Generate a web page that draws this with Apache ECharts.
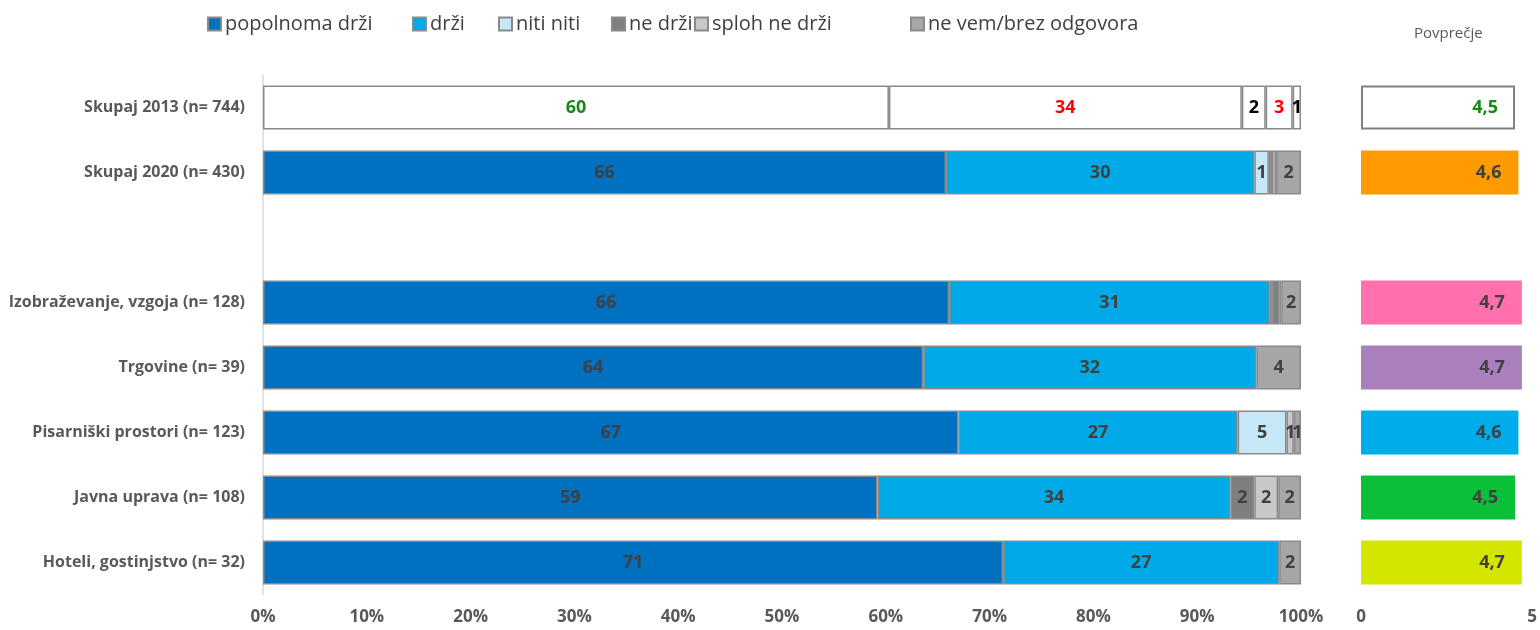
<!DOCTYPE html>
<html>
<head>
<meta charset="utf-8">
<script src="https://cdn.jsdelivr.net/npm/echarts@6/dist/echarts.min.js"></script>
<style>
  html, body { margin: 0; padding: 0; background: #fff; }
  #chart { width: 1540px; height: 630px; }
</style>
</head>
<body>
<div id="chart"></div>
<script>
  // kategorije (prazna vrstica loči skupaj od dejavnosti)
  var categories = ['Skupaj 2013 (n= 744)', 'Skupaj 2020 (n= 430)', '', 'Izobraževanje, vzgoja (n= 128)',
    'Trgovine (n= 39)', 'Pisarniški prostori (n= 123)', 'Javna uprava (n= 108)', 'Hoteli, gostinjstvo (n= 32)']

  var seriesNames = ['popolnoma drži', 'drži', 'niti niti', 'ne drži', 'sploh ne drži', 'ne vem/brez odgovora']
  var popolnomaDrzi = [60.3, 65.8, null, 66.1, 63.6, 67.0, 59.2, 71.3]
  var drzi = [34.0, 29.7, null, 30.9, 32.1, 26.9, 34.0, 26.6]
  var nitiNiti = [2.3, 1.4, null, 0.3, 0, 4.7, 0, 0]
  var neDrzi = [2.6, 0.3, null, 0.6, 0, 0, 2.3, 0]
  var splohNeDrzi = [0.8, 0.4, null, 0.2, 0, 0.7, 2.3, 0]
  var neVem = [0, 2.4, null, 1.9, 4.3, 0.7, 2.2, 2.1]
  var povprecje = [4.5, 4.6, null, 4.7, 4.7, 4.6, 4.5, 4.7]

  var xTicks = { min: 0, max: 100, interval: 10 }

  var colors = ['#0070c0', '#00aae9', '#c5e7f8', '#7f7f7f', '#c8c8c8', '#a6a6a6']
  var label2013 = ['#178a17', '#ff0000', '#000000', '#ff0000', '#000000', '#000000']
  var avgColors = ['#ffffff', '#ff9a00', '#ff70ac', '#a97fbe', '#00acea', '#0bbf38', '#d3e600']

  var allValues = [popolnomaDrzi, drzi, nitiNiti, neDrzi, splohNeDrzi, neVem]
  var fontBold = "'Open Sans', sans-serif"

  var myChart = echarts.init(document.getElementById('chart'))

  var barSeries = allValues.map(function (vals, s) {
    return {
      name: seriesNames[s],
      type: 'bar',
      stack: 'total',
      barCategoryGap: '32%',
      itemStyle: { color: colors[s], borderColor: '#8a8a8a', borderWidth: 1.5 },
      label: {
        show: true,
        position: 'inside',
        color: '#404040',
        fontFamily: fontBold,
        fontWeight: 'bold',
        fontSize: 18,
        formatter: function (p) {
          // zelo majhni deleži nimajo oznake
          return p.value >= 0.7 ? String(Math.round(p.value)) : ''
        }
      },
      data: vals.map(function (v, i) {
        if (v === null || v === 0) return '-'
        if (i === 0) {
          return { value: v, itemStyle: { color: '#ffffff' }, label: { color: label2013[s] } }
        }
        return v
      })
    }
  })

  // legenda - vsak element posebej, da so razmiki kot na sliki
  var legendLeft = [207, 412, 498, 611, 694, 910]
  var legends = seriesNames.map(function (n, i) {
    return {
      data: [n],
      left: legendLeft[i],
      top: 14,
      padding: 0,
      itemWidth: 13,
      itemHeight: 13,
      icon: 'rect',
      textStyle: { fontFamily: "'Open Sans', sans-serif", fontSize: 20, color: '#404040', padding: [0, 0, 0, -1] }
    }
  })

  var option = {
    animation: false,
    legend: legends,
    title: {
      text: 'Povprečje',
      left: 1409,
      top: 21,
      textStyle: { fontFamily: "'Open Sans', sans-serif", fontSize: 15, fontWeight: 'normal', color: '#595959' }
    },
    grid: [
      { left: 263, right: 239, top: 75, bottom: 35 },
      { left: 1361, width: 172.5, top: 75, bottom: 35 }
    ],
    xAxis: [
      {
        type: 'value',
        gridIndex: 0,
        min: xTicks.min,
        max: xTicks.max,
        interval: xTicks.interval,
        axisLine: { show: false },
        axisTick: { show: false },
        splitLine: { show: false },
        axisLabel: {
          formatter: '{value}%',
          margin: 14,
          color: '#595959',
          fontFamily: fontBold,
          fontWeight: 'bold',
          fontSize: 17
        }
      },
      {
        type: 'value',
        gridIndex: 1,
        min: 0,
        max: 5,
        interval: 5,
        axisLine: { show: false },
        axisTick: { show: false },
        splitLine: { show: false },
        axisLabel: {
          margin: 14,
          color: '#595959',
          fontFamily: fontBold,
          fontWeight: 'bold',
          fontSize: 17
        }
      }
    ],
    yAxis: [
      {
        type: 'category',
        gridIndex: 0,
        inverse: true,
        data: categories,
        axisLine: { show: true, lineStyle: { color: '#d9d9d9', width: 1.5 } },
        axisTick: { show: false },
        axisLabel: {
          margin: 18,
          color: '#595959',
          fontFamily: fontBold,
          fontWeight: 'bold',
          fontSize: 16
        }
      },
      {
        type: 'category',
        gridIndex: 1,
        inverse: true,
        data: categories,
        axisLine: { show: false },
        axisTick: { show: false },
        axisLabel: { show: false }
      }
    ],
    series: barSeries.concat([
      {
        name: 'Povprečje',
        type: 'bar',
        xAxisIndex: 1,
        yAxisIndex: 1,
        barCategoryGap: '32%',
        label: {
          show: true,
          position: 'insideRight',
          distance: 17,
          color: '#404040',
          fontFamily: fontBold,
          fontWeight: 'bold',
          fontSize: 18,
          formatter: function (p) {
            return String(p.value).replace('.', ',')
          }
        },
        data: (function () {
          var out = []
          var c = 0
          povprecje.forEach(function (v, i) {
            if (v === null) { out.push('-'); return }
            var item = { value: v, itemStyle: { color: avgColors[c] } }
            if (i === 0) {
              item.itemStyle.borderColor = '#808080'
              item.itemStyle.borderWidth = 2
              item.label = { color: '#178a17' }
            }
            out.push(item)
            c++
          })
          return out
        })()
      }
    ])
  }

  myChart.setOption(option)
</script>
</body>
</html>
